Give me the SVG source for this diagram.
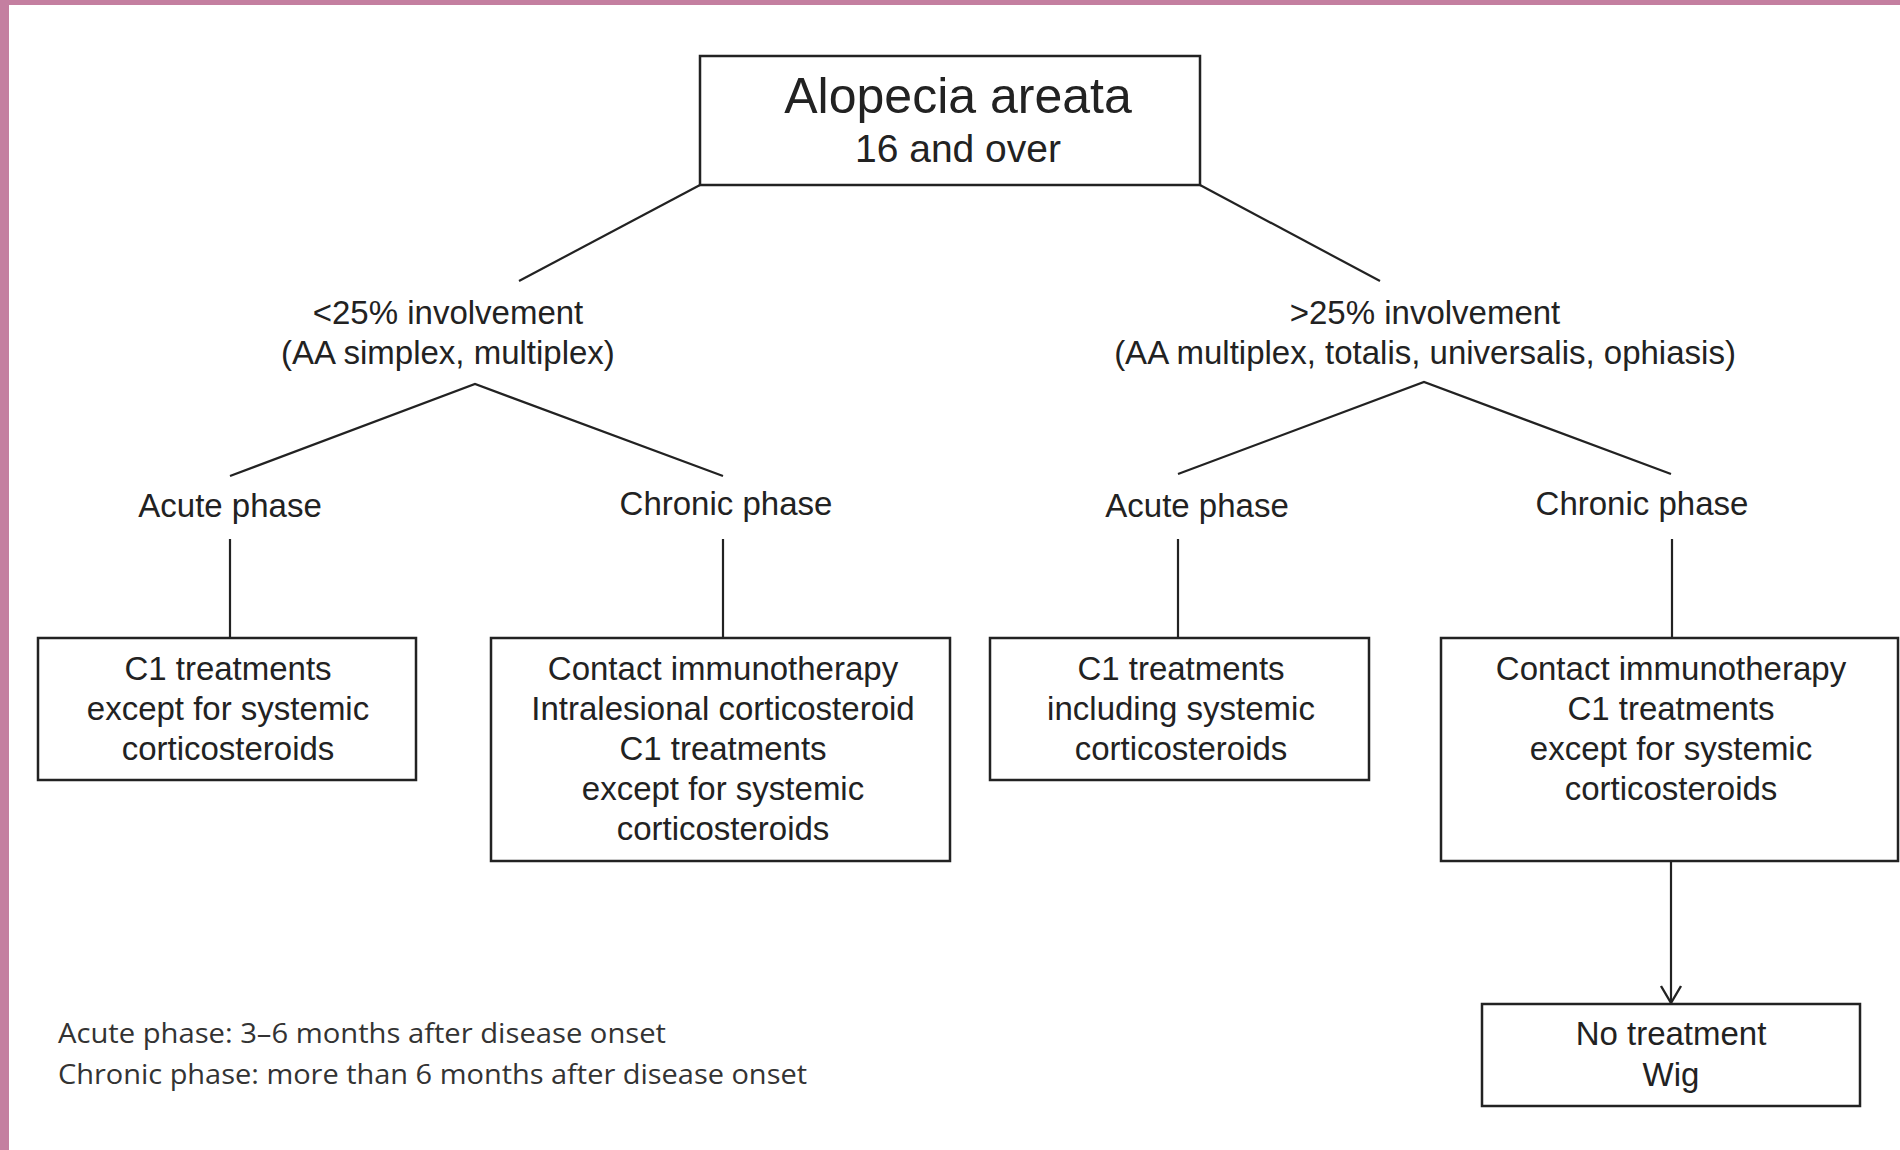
<svg xmlns="http://www.w3.org/2000/svg" width="1900" height="1150" viewBox="0 0 1900 1150">
<style>
.t{font-family:"Liberation Sans",Arial,sans-serif;fill:#222;text-anchor:middle}
.f{font-family:"Open Sans","Noto Sans",sans-serif;fill:#333}
.box{fill:#fff;stroke:#222;stroke-width:2.5}
.ln{stroke:#222;stroke-width:2.2;fill:none}
</style>
<defs>
<marker id="ah" markerWidth="24" markerHeight="24" refX="20" refY="12" orient="auto" markerUnits="userSpaceOnUse" viewBox="0 0 24 24">
<path d="M3,2 L20,12 L3,22" fill="none" stroke="#222" stroke-width="2.4"/>
</marker>
</defs>
<rect x="0" y="0" width="1900" height="1150" fill="#fff"/>
<rect x="0" y="0" width="1900" height="5" fill="#c47fa0"/>
<rect x="0" y="0" width="9" height="1150" fill="#c47fa0"/>

<g id="connectors">
<line class="ln" x1="700" y1="185" x2="519" y2="281"/>
<line class="ln" x1="1200" y1="185" x2="1380" y2="281"/>
<polyline class="ln" points="230,476 475,384 723,476"/>
<polyline class="ln" points="1178,474 1424,382 1671,474"/>
<line class="ln" x1="230" y1="539" x2="230" y2="638"/>
<line class="ln" x1="723" y1="539" x2="723" y2="638"/>
<line class="ln" x1="1178" y1="539" x2="1178" y2="638"/>
<line class="ln" x1="1672" y1="539" x2="1672" y2="638"/>
<line class="ln" x1="1671" y1="861" x2="1671" y2="1003" marker-end="url(#ah)"/>
</g>

<g id="root">
<rect class="box" x="700" y="56" width="500" height="129"/>
<text class="t" x="958" y="113" font-size="50">Alopecia areata</text>
<text class="t" x="958" y="162" font-size="39">16 and over</text>
</g>

<g id="lt25">
<text class="t" x="448" y="324" font-size="33">&lt;25% involvement</text>
<text class="t" x="448" y="364" font-size="33">(AA simplex, multiplex)</text>
</g>
<g id="gt25">
<text class="t" x="1425" y="324" font-size="33">&gt;25% involvement</text>
<text class="t" x="1425" y="364" font-size="33">(AA multiplex, totalis, universalis, ophiasis)</text>
</g>

<g id="acute-left"><text class="t" x="230" y="517" font-size="33">Acute phase</text></g>
<g id="chronic-left"><text class="t" x="726" y="515" font-size="33">Chronic phase</text></g>
<g id="acute-right"><text class="t" x="1197" y="517" font-size="33">Acute phase</text></g>
<g id="chronic-right"><text class="t" x="1642" y="515" font-size="33">Chronic phase</text></g>

<g id="boxA">
<rect class="box" x="38" y="638" width="378" height="142"/>
<text class="t" x="228" y="680" font-size="33">C1 treatments</text>
<text class="t" x="228" y="720" font-size="33">except for systemic</text>
<text class="t" x="228" y="760" font-size="33">corticosteroids</text>
</g>
<g id="boxB">
<rect class="box" x="491" y="638" width="459" height="223"/>
<text class="t" x="723" y="680" font-size="33">Contact immunotherapy</text>
<text class="t" x="723" y="720" font-size="33">Intralesional corticosteroid</text>
<text class="t" x="723" y="760" font-size="33">C1 treatments</text>
<text class="t" x="723" y="800" font-size="33">except for systemic</text>
<text class="t" x="723" y="840" font-size="33">corticosteroids</text>
</g>
<g id="boxC">
<rect class="box" x="990" y="638" width="379" height="142"/>
<text class="t" x="1181" y="680" font-size="33">C1 treatments</text>
<text class="t" x="1181" y="720" font-size="33">including systemic</text>
<text class="t" x="1181" y="760" font-size="33">corticosteroids</text>
</g>
<g id="boxD">
<rect class="box" x="1441" y="638" width="457" height="223"/>
<text class="t" x="1671" y="680" font-size="33">Contact immunotherapy</text>
<text class="t" x="1671" y="720" font-size="33">C1 treatments</text>
<text class="t" x="1671" y="760" font-size="33">except for systemic</text>
<text class="t" x="1671" y="800" font-size="33">corticosteroids</text>
</g>
<g id="boxE">
<rect class="box" x="1482" y="1004" width="378" height="102"/>
<text class="t" x="1671" y="1045" font-size="33">No treatment</text>
<text class="t" x="1671" y="1086" font-size="33">Wig</text>
</g>

<g id="footnote">
<text class="f" x="58" y="1043" font-size="27" textLength="608" lengthAdjust="spacingAndGlyphs">Acute phase: 3–6 months after disease onset</text>
<text class="f" x="58" y="1084" font-size="27" textLength="749" lengthAdjust="spacingAndGlyphs">Chronic phase: more than 6 months after disease onset</text>
</g>
</svg>
